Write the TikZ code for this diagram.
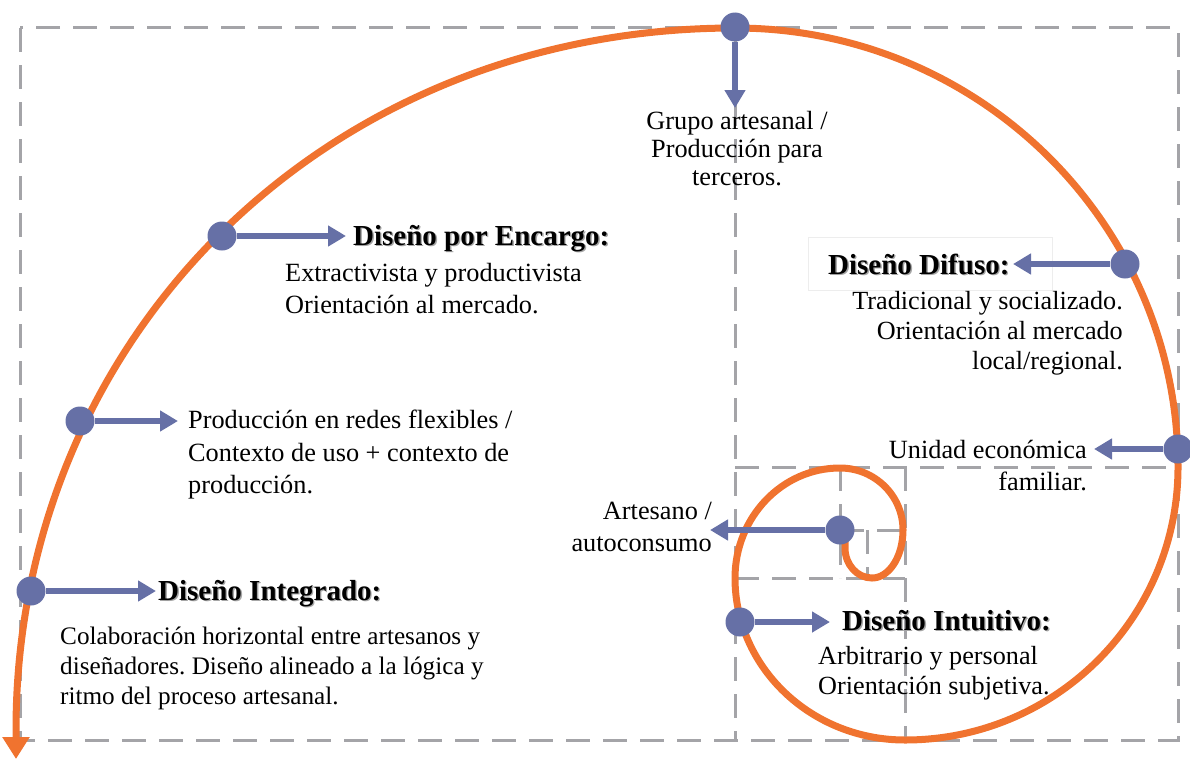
\documentclass[tikz,border=0pt]{standalone}
\usepackage{fontspec}
\setmainfont{Liberation Serif}
\usetikzlibrary{arrows.meta}
\definecolor{sporange}{HTML}{F0732F}
\definecolor{dotblue}{HTML}{6670A6}
\definecolor{dashgray}{HTML}{A4A4A8}
\newcommand\shtext[1]{\makebox[0pt][l]{\hspace{1.3pt}\raisebox{-1.3pt}{\textcolor{black!35}{#1}}}#1}
\frenchspacing
\begin{document}
\begin{tikzpicture}[x=1pt,y=-1pt,
 guide/.style={draw=dashgray, line width=3pt, dash pattern=on 24pt off 13pt},
 spiral/.style={draw=sporange, line width=7pt},
 dotnode/.style={circle, fill=dotblue, minimum size=29pt, inner sep=0pt},
 pointer/.style={draw=dotblue, line width=6pt, -{Triangle[length=18pt,width=20pt]}},
 title/.style={font=\fontsize{29}{34}\selectfont\bfseries, inner sep=0pt, text height=20pt, text depth=6pt, anchor=west},
 body/.style={font=\fontsize{26.3}{32}\selectfont, inner sep=0pt},
]
\useasboundingbox (0,0) rectangle (1190,760);
% guide rectangles
\draw[guide] (20,28) rectangle (1178,740);
\draw[guide] (735,28) -- (735,740);
\draw[guide] (735,467) -- (1178,467);
\draw[guide] (905,467) -- (905,740);
\draw[guide] (735,578) -- (905,578);
\draw[guide] (840,467) -- (840,578);
\draw[guide] (840,530) -- (905,530);
\draw[guide] (867,530) -- (867,578);
\draw[draw=black!7, line width=0.8pt] (808,237) rectangle (1052,290);
% spiral
\draw[spiral, -{Triangle[length=22pt,width=26pt]}] (845,538) -- (845,548)
  arc[start angle=180,end angle=90,x radius=27,y radius=30]
  arc[start angle=90,end angle=0,x radius=31,y radius=48]
  arc[start angle=0,end angle=-90,x radius=63,y radius=62]
  arc[start angle=-90,end angle=-180,x radius=105,y radius=110]
  arc[start angle=180,end angle=90,x radius=170,y radius=162]
  arc[start angle=90,end angle=0,radius=273]
  arc[start angle=0,end angle=-90,x radius=443,y radius=439]
  .. controls (325,28) and (16,338) .. (16,730) -- (16,759);
% dots and pointers
\node[dotnode] (dtop) at (735,27) {};
\node[dotnode] (d1) at (222,236) {};
\node[dotnode] (d2) at (80,421) {};
\node[dotnode] (d3) at (31,591) {};
\node[dotnode] (d4) at (1125,264) {};
\node[dotnode] (d5) at (1178,449) {};
\node[dotnode] (d6) at (840,530) {};
\node[dotnode] (d7) at (740,622) {};
\coordinate (etop) at (735,108);
\coordinate (e1) at (346,236);
\coordinate (e2) at (178,421);
\coordinate (e3) at (156,591);
\coordinate (e4) at (1013,264);
\coordinate (e5) at (1094,449);
\coordinate (e6) at (710,530);
\coordinate (e7) at (830,622);
\draw[pointer] (dtop) -- (etop);
\draw[pointer] (d1) -- (e1);
\draw[pointer] (d2) -- (e2);
\draw[pointer] (d3) -- (e3);
\draw[pointer] (d4) -- (e4);
\draw[pointer] (d5) -- (e5);
\draw[pointer] (d6) -- (e6);
\draw[pointer] (d7) -- (e7);
% texts
\node[body, font=\fontsize{26.3}{28}\selectfont, align=center, anchor=north] (t0) at (737,111) {Grupo artesanal /\\Producción para\\terceros.};
\node[title] (t1) at (353,238) {\shtext{Diseño por Encargo:}};
\node[body, align=left, anchor=north west] (b1) at (285,263) {Extractivista y productivista\\Orientación al mercado.};
\node[body, font=\fontsize{26.3}{32.5}\selectfont, align=left, anchor=north west] (b2) at (188,410) {Producción en redes flexibles /\\Contexto de uso + contexto de\\producción.};
\node[title] (t3) at (158,593) {\shtext{Diseño Integrado:}};
\node[body, font=\fontsize{25.2}{30}\selectfont, align=left, anchor=north west] (b3) at (60,627) {Colaboración horizontal entre artesanos y\\diseñadores. Diseño alineado a la lógica y\\ritmo del proceso artesanal.};
\node[title] (t4) at (828,267) {\shtext{Diseño Difuso:}};
\node[body, font=\fontsize{26.2}{30}\selectfont, align=right, anchor=north east] (b4) at (1123,291) {Tradicional y socializado.\\Orientación al mercado\\local/regional.};
\node[body, align=right, anchor=north east] (b5) at (1087,440) {Unidad económica\\familiar.};
\node[body, align=right, anchor=north east] (b6) at (712,502) {Artesano /\\autoconsumo};
\node[title] (t7) at (842,623) {\shtext{Diseño Intuitivo:}};
\node[body, font=\fontsize{26.2}{30}\selectfont, align=left, anchor=north west] (b7) at (818,646) {Arbitrario y personal\\Orientación subjetiva.};
\end{tikzpicture}
\end{document}
